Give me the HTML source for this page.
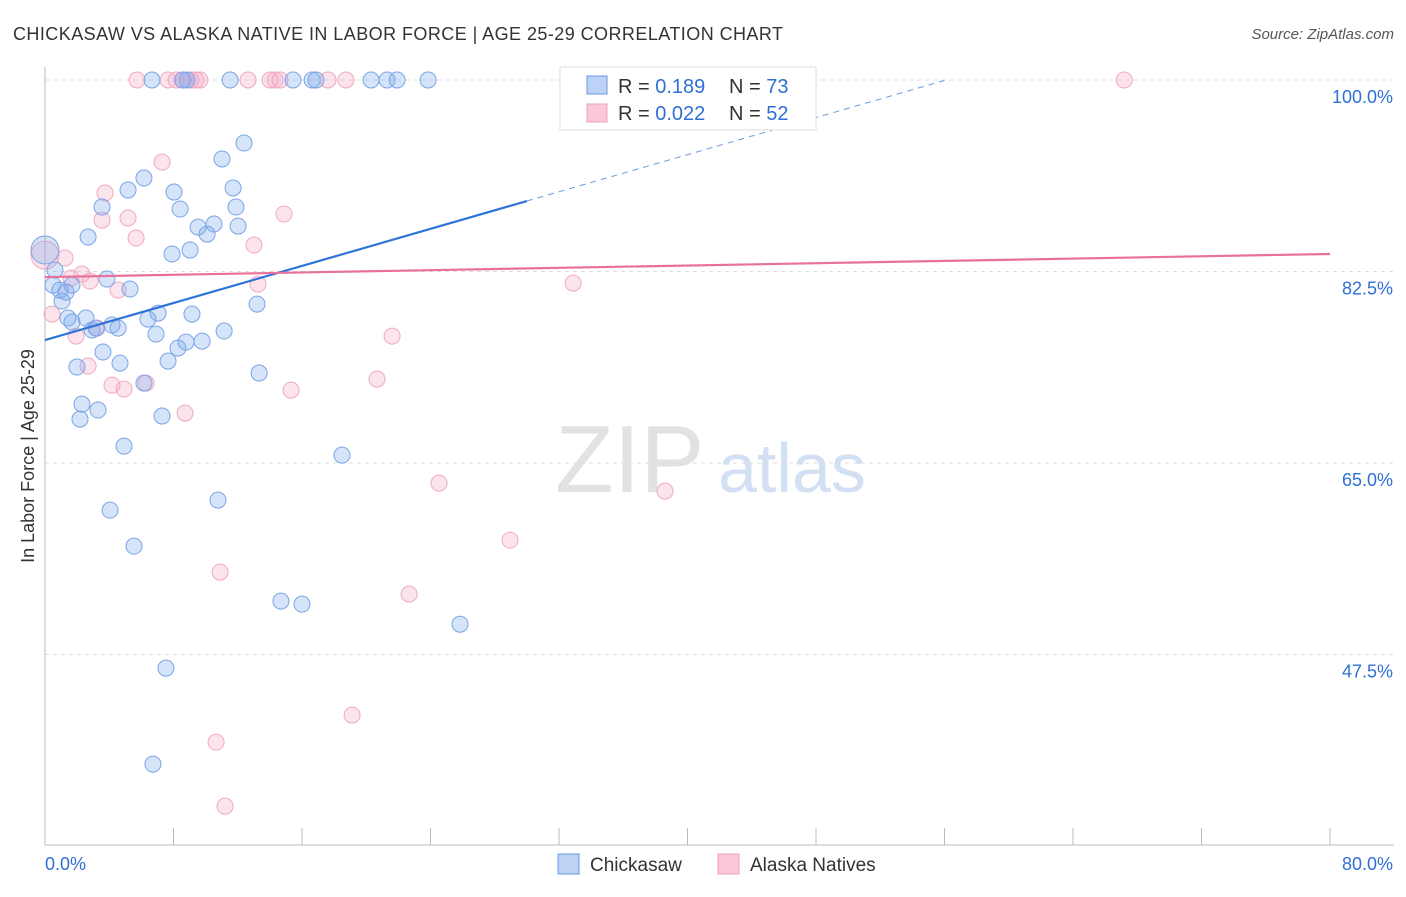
<!DOCTYPE html>
<html><head><meta charset="utf-8"><style>
body{margin:0;background:#fff;font-family:"Liberation Sans",sans-serif}
svg text{font-family:"Liberation Sans",sans-serif}
</style></head><body>
<svg id="chart" width="1406" height="892">
<text x="13" y="40" font-size="18" fill="#333" textLength="770">CHICKASAW VS ALASKA NATIVE IN LABOR FORCE | AGE 25-29 CORRELATION CHART</text>
<text x="1394" y="39" font-size="15" fill="#555" font-style="italic" text-anchor="end">Source: ZipAtlas.com</text>
<text x="34" y="456" font-size="18" fill="#333" text-anchor="middle" transform="rotate(-90 34 456)">In Labor Force | Age 25-29</text>
<text x="555" y="492" font-size="96" fill="#e2e2e2" font-family="Liberation Serif">ZIP</text>
<text x="718" y="492" font-size="70" fill="#d3e0f3">atlas</text>
<g id="grid"></g><g id="axes"></g><g id="pts"></g><g id="trend"></g>
<g>
<rect x="560" y="67" width="256" height="63" fill="#fff" stroke="#ddd"/>
<rect x="587" y="76" width="20" height="18" fill="#bcd3f5" stroke="#6a9ae0"/>
<rect x="587" y="104" width="20" height="18" fill="#fac8d8" stroke="#f0a0bc"/>
<text x="618" y="93" font-size="20" fill="#333">R = <tspan fill="#2f6fd6">0.189</tspan><tspan x="729">N = </tspan><tspan fill="#2f6fd6">73</tspan></text>
<text x="618" y="120" font-size="20" fill="#333">R = <tspan fill="#2f6fd6">0.022</tspan><tspan x="729">N = </tspan><tspan fill="#2f6fd6">52</tspan></text>
</g>
<g>
<rect x="558" y="854" width="21" height="20" fill="#bcd3f5" stroke="#6a9ae0"/>
<text x="590" y="871" font-size="19" fill="#333">Chickasaw</text>
<rect x="718" y="854" width="21" height="20" fill="#fac8d8" stroke="#f0a0bc"/>
<text x="750" y="871" font-size="19" fill="#333">Alaska Natives</text>
</g>
</svg>
<script>
const yTicks=[100,82.5,65,47.5];
const yTickLabels=["100.0%","82.5%","65.0%","47.5%"];
const blueX=[6.66,11.52,15.44,16.63,16.87,20.30,21.30,21.92,23.85,8.59,8.84,12.39,11.02,6.16,5.17,8.03,11.71,3.55,8.41,11.89,9.53,10.52,12.02,10.09,2.68,7.91,9.03,0.62,3.86,0.50,0.93,1.31,1.68,5.29,1.06,13.20,7.04,9.15,6.41,1.43,1.68,2.55,4.17,4.55,2.93,3.18,6.91,11.15,8.78,9.78,8.28,3.61,4.67,7.66,1.99,13.33,6.16,2.30,3.30,2.18,7.29,4.92,18.49,10.77,4.05,5.54,14.69,16.00,25.84,7.53,6.72,0];
const blueY=[100,100,100,100,100,100,100,100,100,100,100,94.24,92.78,91.04,89.95,89.76,90.13,88.39,88.21,88.39,86.56,86.84,86.65,85.92,85.65,84.10,84.46,82.63,81.81,81.26,80.80,80.62,81.26,80.90,79.80,79.52,78.70,78.61,78.15,78.25,77.88,78.25,77.61,77.33,77.15,77.33,76.78,77.06,76.05,76.14,75.50,75.14,74.13,74.31,73.77,73.22,72.30,70.38,69.84,69.01,69.29,66.54,65.72,61.61,60.69,57.40,52.38,52.10,50.27,46.25,37.48,84.46];
const pinkX=[5.73,7.66,8.16,8.53,9.09,9.65,12.64,14.01,14.32,14.63,17.62,18.74,37.80,45.08,67.19,9.40,7.29,3.74,14.88,5.17,3.55,5.67,13.01,1.25,2.30,2.80,1.62,32.88,13.26,4.55,0.44,1.93,3.24,21.61,2.68,4.17,6.29,4.92,20.67,15.32,8.72,24.53,38.60,28.95,10.90,22.67,19.12,10.65,11.21,0];
const pinkY=[100,100,100,100,100,100,100,100,100,100,100,100,100,100,100,100,92.50,89.67,87.75,87.39,87.20,85.56,84.92,83.73,82.27,81.63,81.90,81.44,81.35,80.80,78.61,76.60,77.33,76.60,73.86,72.12,72.30,71.76,72.67,71.66,69.56,63.16,62.43,57.95,55.03,53.02,41.96,39.49,33.64,84.0];
const blueTrend=[76.23,0.4237];
const pinkTrend=[81.99,0.0264];
const NS="http://www.w3.org/2000/svg";
const X=v=>45+v*16.0625, Y=v=>80+(100-v)*10.943;
function mk(t,a,p){const e=document.createElementNS(NS,t);for(const k in a)e.setAttribute(k,a[k]);p.appendChild(e);return e;}
const grid=document.getElementById('grid'),axes=document.getElementById('axes'),pts=document.getElementById('pts'),tr=document.getElementById('trend');
yTicks.forEach((t,i)=>{
 const l=mk('line',{x1:45,x2:1394,y1:Y(t),y2:Y(t),stroke:'#ddd','stroke-dasharray':'4,4'},grid);
 
 
 const tx=mk('text',{x:1393,y:Y(t)+23,'font-size':18,fill:'#2f6fd6','text-anchor':'end'},grid);
 tx.textContent=yTickLabels[i];
 
 
});
mk('line',{x1:45,x2:45,y1:67,y2:845,stroke:'#bbb'},axes);
mk('line',{x1:45,x2:1394,y1:845,y2:845,stroke:'#bbb'},axes);
for(let i=0;i<=10;i++){mk('line',{x1:X(i*8),x2:X(i*8),y1:828,y2:845,stroke:'#bbb'},axes);}
const xl=mk('text',{x:45,y:870,'font-size':18,fill:'#2f6fd6'},axes);xl.textContent='0.0%';


const xr=mk('text',{x:1393,y:870,'font-size':18,fill:'#2f6fd6','text-anchor':'end'},axes);xr.textContent='80.0%';


function dots(xs,ys,fill,stroke,name){xs.forEach((x,i)=>{
 const big=(x===0);
 const c=mk('circle',{cx:X(x),cy:Y(ys[i]),r:big?14:8,fill:fill,stroke:stroke,'stroke-width':1},pts);
 
 
});}
dots(pinkX,pinkY,'rgba(245,165,195,0.3)','#f2a8c2','alaska-native-point');
dots(blueX,blueY,'rgba(120,165,235,0.3)','#7aa5e6','chickasaw-point');
const b1=mk('line',{x1:X(0),y1:Y(blueTrend[0]),x2:X(30),y2:Y(blueTrend[0]+30*blueTrend[1]),stroke:'#2f74d8','stroke-width':2.2},tr);


const b2=mk('line',{x1:X(30),y1:Y(blueTrend[0]+30*blueTrend[1]),x2:X(56),y2:Y(blueTrend[0]+56*blueTrend[1]),stroke:'#6a9ae0','stroke-width':1,'stroke-dasharray':'6,5'},tr);


const p1=mk('line',{x1:X(0),y1:Y(pinkTrend[0]),x2:X(80),y2:Y(pinkTrend[0]+80*pinkTrend[1]),stroke:'#e8709a','stroke-width':2.2},tr);


</script>
</body></html>
